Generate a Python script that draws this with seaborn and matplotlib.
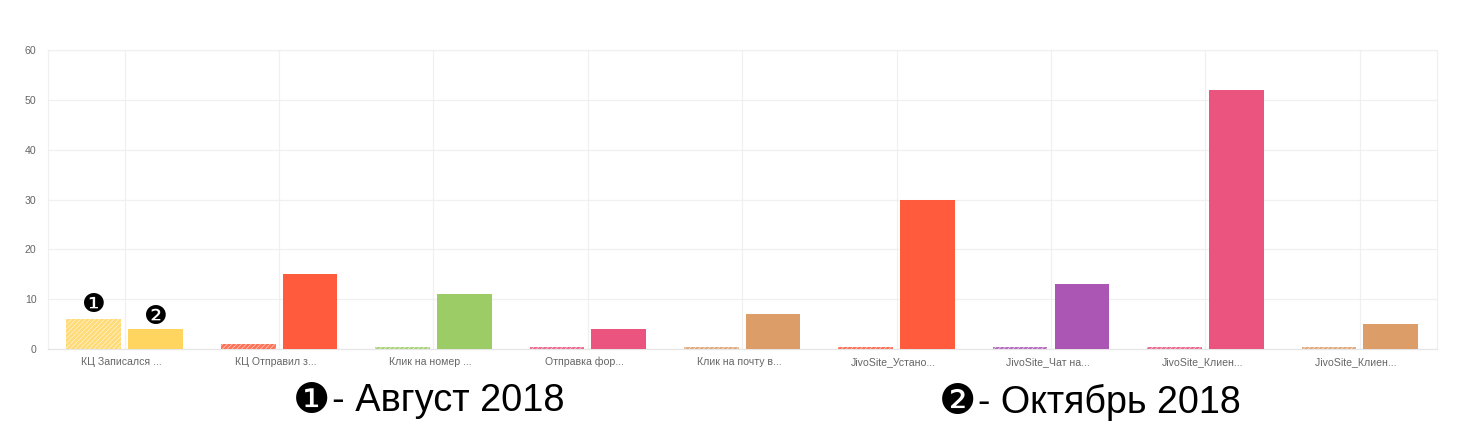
import matplotlib
matplotlib.use("Agg")
import matplotlib.pyplot as plt
import matplotlib.transforms as mtransforms
import pandas as pd
import seaborn as sns

categories = [
    "КЦ Записался ...", "КЦ Отправил з...", "Клик на номер ...",
    "Отправка фор...", "Клик на почту в...", "JivoSite_Устано...",
    "JivoSite_Чат на...", "JivoSite_Клиен...", "JivoSite_Клиен... ",
]
august_2018 = [6, 1, 0.5, 0.5, 0.5, 0.5, 0.5, 0.5, 0.5]
october_2018 = [4, 15, 11, 4, 7, 30, 13, 52, 5]
category_colors = [
    "#FFD55F", "#FF5B3C", "#9CCC65", "#EC5480", "#DC9D69",
    "#FF5B3C", "#AB56B5", "#EC5480", "#DC9D69",
]
period_names = ["Август 2018", "Октябрь 2018"]
period_marks = ["❶", "❷"]
y_ticks = [0, 10, 20, 30, 40, 50, 60]

GRID = "#F0F0F0"
LABEL = "#666666"
W, H = 1459, 444

sns.set_theme(style="white")
plt.rcParams["font.family"] = ["Liberation Sans", "DejaVu Sans"]
plt.rcParams["hatch.linewidth"] = 0.4

frame = pd.DataFrame({
    "category": categories * 2,
    "period": [period_names[0]] * len(categories) + [period_names[1]] * len(categories),
    "value": august_2018 + october_2018,
})

fig = plt.figure(figsize=(W / 100, H / 100), dpi=100, facecolor="white")
ax = fig.add_axes([47.5 / W, 1 - 349 / H, 1389.5 / W, 299 / H])

sns.barplot(
    data=frame, x="category", y="value", hue="period", order=categories,
    hue_order=period_names, dodge=True, gap=0.115, width=0.80, errorbar=None,
    legend=False, ax=ax, zorder=3,
)

# Each category has its own hue; the earlier period is hatched and paler.
for container, hatched in zip(ax.containers, (True, False)):
    for bar, color in zip(container, category_colors):
        bar.set_linewidth(0)
        bar.set_facecolor(color)
        bar.set_zorder(3)
        if hatched:
            bar.set_alpha(0.85)
            bar.set_edgecolor("white")
            bar.set_hatch("///////")

ax.set_xlim(-0.5, len(categories) - 0.5)
ax.set_ylim(0, 60)
ax.set_yticks(y_ticks)
ax.set_xlabel("")
ax.set_ylabel("")
ax.set_axisbelow(True)
ax.grid(True, axis="both", color=GRID, linewidth=0.9)
for spine in ax.spines.values():
    spine.set_color(GRID)
    spine.set_linewidth(0.9)
ax.spines["bottom"].set_color("#E6E6E6")

ax.tick_params(axis="y", length=0, pad=8, labelsize=7.6, labelcolor=LABEL)
ax.tick_params(axis="x", length=0, pad=11.5, labelsize=7.6, labelcolor=LABEL)
shift = mtransforms.ScaledTranslation(-3 / 100, 0, fig.dpi_scale_trans)
for label in ax.get_xticklabels():
    label.set_verticalalignment("baseline")
    label.set_transform(label.get_transform() + shift)

# Numbered markers over the first pair of bars
for container, mark, lift in zip(ax.containers, period_marks, (10.5, 8.5)):
    bar = container[0]
    ax.annotate(
        mark, (bar.get_x() + bar.get_width() / 2, bar.get_height()),
        xytext=(0, lift), textcoords="offset points", ha="center", va="center",
        fontsize=19, color="black", family="DejaVu Sans", zorder=5,
    )

# Key below the chart
for mark, name, mark_x, text_x, y, size in zip(
    period_marks, period_names, (312, 958), (332, 978), (401, 402), (27.4, 27.1)
):
    fig.text(mark_x / W, 1 - y / H, mark, ha="center", va="center",
             fontsize=30, color="black", family="DejaVu Sans")
    fig.text(text_x / W, 1 - y / H, f"- {name}", ha="left", va="center",
             fontsize=size, color="black", family="Liberation Sans")

fig.savefig("out.png", dpi=100, facecolor="white")
